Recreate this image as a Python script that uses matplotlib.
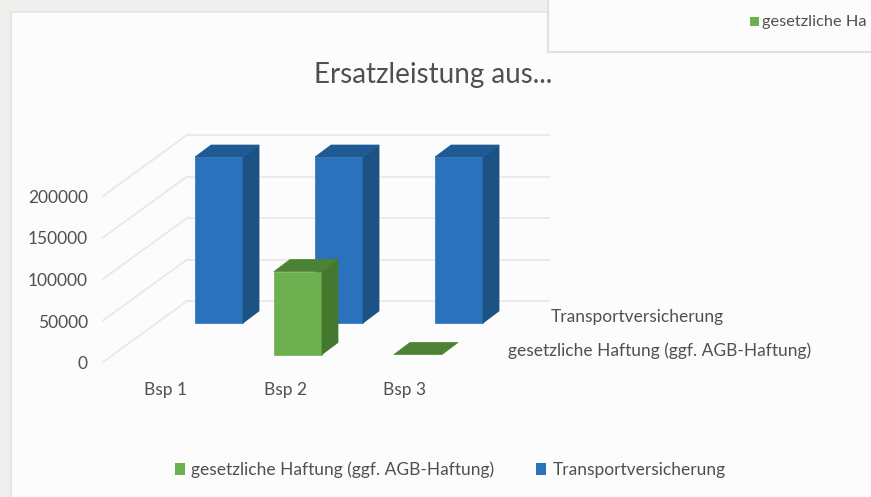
import matplotlib
matplotlib.use("Agg")
import matplotlib.pyplot as plt
from matplotlib.patches import Polygon, Rectangle, Patch

plt.rcParams['font.family'] = ['Lato', 'DejaVu Sans']

categories = ["Bsp 1", "Bsp 2", "Bsp 3"]
haftung = [None, 100000, 0]
transport = [200000, 200000, 200000]
y_ticks = [0, 50000, 100000, 150000, 200000]
label_haftung = "gesetzliche Haftung (ggf. AGB-Haftung)"
label_transport = "Transportversicherung"

W, H = 871, 497
X0, Y0 = 103, 362          # front corner of the floor in pixels
PX_X = 1 / 120             # one category is 120 px wide
PX_Y = 200000 / 166        # 200000 is 166 px high

TXT = "#505050"
GRID = "#ebe6e2"
FS = 12.5


def px(x, y):
    return (x - X0) * PX_X, (Y0 - y) * PX_Y


fig = plt.figure(figsize=(W / 100, H / 100), dpi=100, facecolor="#f1efed")
ax = fig.add_axes([0, 0, 1, 1])
ax.set_xlim((0 - X0) * PX_X, (W - X0) * PX_X)
ax.set_ylim((Y0 - H) * PX_Y, Y0 * PX_Y)
ax.axis("off")

# chart area and the second chart lying over its corner
x, y = px(11, H + 5)
ax.add_patch(Rectangle((x, y), (W - 6) * PX_X, (H - 7) * PX_Y, fc="#fcfcfc", ec="#e6e3e0", lw=1.2, zorder=0))
x, y = px(548, 52)
ax.add_patch(Rectangle((x, y), 340 * PX_X, 70 * PX_Y, fc="#fcfcfc", ec="#e6e0dc", lw=1.5, zorder=6))

# wall grid lines and the slanted ones on the side wall
dep_x, dep_y = 84 * PX_X, 61 * PX_Y
for t in y_ticks:
    ax.plot([0, dep_x], [t, t + dep_y], color=GRID, lw=1.2, zorder=1)
    ax.plot([dep_x, (549 - X0) * PX_X], [t + dep_y, t + dep_y], color=GRID, lw=1.2, zorder=1)
    ax.text(-15 * PX_X, t - 2 * PX_Y, str(t), ha="right", va="center", fontsize=FS, color=TXT)


def bar3d(left, base, value, front, side, top, zorder):
    w = 48 * PX_X
    dx, dy = 16 * PX_X, 12 * PX_Y
    v = base + value
    if value > 0:
        ax.add_patch(Polygon([(left, base), (left + w, base), (left + w, v), (left, v)], fc=front, ec=front, lw=0.5, zorder=zorder))
        ax.add_patch(Polygon([(left + w, base), (left + w + dx, base + dy), (left + w + dx, v + dy), (left + w, v)], fc=side, ec=side, lw=0.5, zorder=zorder))
    ax.add_patch(Polygon([(left, v), (left + w, v), (left + w + dx, v + dy), (left + dx, v + dy)], fc=top, ec=top, lw=0.5, zorder=zorder))


for i, v in enumerate(transport):
    bar3d(0.767 + i, 39 * PX_Y, v, "#2a72bc", "#1b5283", "#1f5b92", 2)
for i, v in enumerate(haftung):
    if v is not None:
        bar3d(0.425 + i, 7.5 * PX_Y, v, "#6cb04f", "#44782f", "#4b8234", 3)

# category labels
for i, c in enumerate(categories):
    x, y = px(165 + i * 120, 390)
    ax.text(x, y, c, ha="center", va="center", fontsize=FS, color=TXT)

# series names on the depth axis
x, y = px(637, 317)
ax.text(x, y, label_transport, ha="center", va="center", fontsize=FS, color=TXT)
x, y = px(660, 351)
ax.text(x, y, label_haftung, ha="center", va="center", fontsize=FS, color=TXT)

x, y = px(433, 75)
ax.text(x, y, "Ersatzleistung aus...", ha="center", va="center", fontsize=20, color=TXT)

# remains of the chart on top
x, y = px(750, 26)
ax.add_patch(Rectangle((x, y), 9 * PX_X, 9 * PX_Y, fc="#6cb04f", ec="none", zorder=7))
x, y = px(762, 22)
ax.text(x, y, "gesetzliche Ha", ha="left", va="center", fontsize=11.8, color=TXT, zorder=7)

handles = [Patch(fc="#6cb04f", label=label_haftung), Patch(fc="#2a72bc", label=label_transport)]
ax.legend(handles=handles, loc="center", bbox_to_anchor=(450 / W, 1 - 470 / H), ncol=2, frameon=False,
          fontsize=FS, labelcolor=TXT, handlelength=0.6, handleheight=0.7, handletextpad=0.35, columnspacing=2.4)

fig.savefig("out.png", dpi=100, facecolor=fig.get_facecolor())
